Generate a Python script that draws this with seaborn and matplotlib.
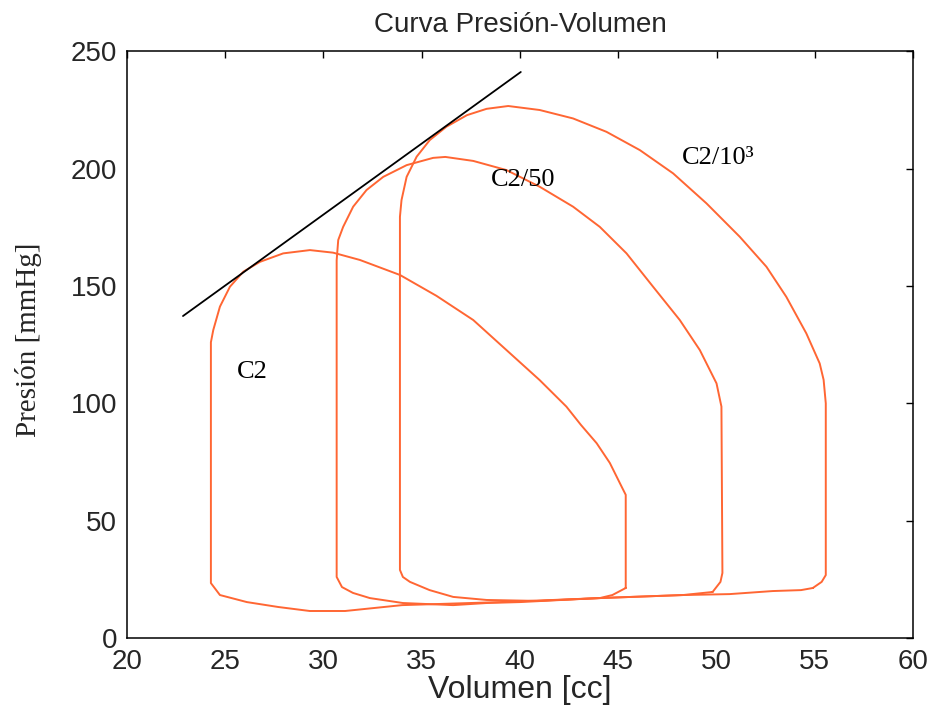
import matplotlib
matplotlib.use("Agg")
import matplotlib.pyplot as plt
import seaborn as sns
import pandas as pd

# ---- data ----
c2_vol = [45.38, 45.38, 45.2, 44.57, 43.9, 43.1, 42.36, 41.0, 39.31, 37.62, 35.75, 33.89,
          31.85, 30.49, 29.31, 27.95, 26.77, 25.92, 25.24, 24.73, 24.39, 24.27, 24.27,
          24.73, 26.1, 27.7, 29.3, 31.1, 34.0, 39.0, 44.06, 44.7, 45.38]
c2_pres = [21.3, 61.0, 64.0, 74.6, 83.0, 90.8, 98.6, 109.9, 122.7, 135.5, 145.8, 154.7,
           161.1, 164.2, 165.3, 163.9, 160.3, 156.1, 149.7, 141.2, 131.2, 126.0, 23.4,
           18.3, 15.3, 13.2, 11.5, 11.5, 14.0, 15.3, 17.0, 18.3, 21.3]

c250_vol = [49.8, 50.2, 50.3, 50.25, 50.0, 49.15, 48.13, 46.77, 45.42, 44.06, 42.7, 41.0,
            39.31, 37.62, 36.2, 35.58, 34.23, 33.04, 32.19, 31.51, 31.0, 30.75, 30.67,
            30.67, 30.94, 31.5, 32.36, 34.04, 36.6, 38.3, 40.0, 44.0, 48.3, 49.8]
c250_pres = [19.6, 23.9, 27.7, 98.6, 108.5, 122.7, 135.5, 149.7, 163.9, 175.2, 183.8, 192.3,
             199.4, 203.3, 205.0, 204.6, 201.5, 196.5, 190.9, 183.8, 175.2, 169.6, 161.0,
             26.0, 21.7, 19.2, 17.0, 14.9, 14.0, 14.9, 15.3, 17.0, 18.3, 19.6]

c21e3_vol = [54.9, 55.35, 55.56, 55.56, 55.45, 55.25, 54.57, 53.55, 52.54, 51.18, 49.49,
             47.79, 46.1, 44.4, 42.7, 41.0, 39.4, 38.3, 37.3, 36.26, 35.41, 34.74, 34.23,
             33.97, 33.89, 33.89, 34.04, 34.4, 35.4, 36.6, 38.3, 40.85, 44.06, 48.3, 50.67,
             52.86, 54.3, 54.9]
c21e3_pres = [21.3, 23.9, 26.8, 100.0, 110.0, 117.0, 129.8, 145.4, 158.2, 171.0, 185.2,
              198.0, 207.9, 215.7, 221.4, 225.0, 226.7, 225.5, 222.8, 217.9, 212.2, 205.1,
              196.5, 186.6, 179.5, 29.0, 26.0, 23.9, 20.4, 17.5, 16.2, 15.8, 17.0, 18.3,
              18.7, 20.0, 20.4, 21.3]

tangent_vol = [22.85, 40.04]
tangent_pres = [137.2, 241.2]

labels = ["C2", "C2/50", "C2/10\u00b3"]
label_vol = [26.38, 40.14, 48.23]
label_pres = [113.3, 195.1, 204.5]

x_ticks = [20, 25, 30, 35, 40, 45, 50, 55, 60]
y_ticks = [0, 50, 100, 150, 200, 250]

# ---- plot ----
sns.set_style("white")
plt.rcParams["font.family"] = ["Liberation Sans", "DejaVu Sans"]

fig = plt.figure(figsize=(9.33, 7.11), dpi=100)
ax = fig.add_axes([0.1361, 0.1027, 0.8425, 0.8251])

curve_color = "#ff6633"
for v, p in [(c2_vol, c2_pres), (c250_vol, c250_pres), (c21e3_vol, c21e3_pres)]:
    df = pd.DataFrame({"vol": v, "pres": p})
    sns.lineplot(data=df, x="vol", y="pres", sort=False, estimator=None,
                 color=curve_color, linewidth=1.4, ax=ax)

df_t = pd.DataFrame({"vol": tangent_vol, "pres": tangent_pres})
sns.lineplot(data=df_t, x="vol", y="pres", sort=False, estimator=None,
             color="black", linewidth=1.3, ax=ax)

for i, (t, xv, yv) in enumerate(zip(labels, label_vol, label_pres)):
    ax.text(xv, yv, t, family=["Liberation Serif", "DejaVu Serif"], fontsize=19,
            ha="left" if i == 2 else "center", va="center", color="black")

ax.set_xlim(20, 60)
ax.set_ylim(0, 250)
ax.set_xticks(x_ticks)
ax.set_yticks(y_ticks)
ax.tick_params(direction="in", length=5, width=1.0, top=True, right=True,
               labelsize=20, colors="black", labelcolor="#262626")
ax.tick_params(axis="x", pad=8)
ax.tick_params(axis="y", pad=7)
for s in ax.spines.values():
    s.set_visible(True)
    s.set_color("black")
    s.set_linewidth(1.1)

ax.set_title("Curva Presi\u00f3n-Volumen", fontsize=20, pad=14, color="#262626")
ax.set_xlabel("Volumen [cc]", fontsize=23, labelpad=0, color="#262626")
ax.set_ylabel("Presi\u00f3n [mmHg]", fontsize=21, family=["Liberation Serif", "DejaVu Serif"])
ax.yaxis.set_label_coords(-0.108, 0.508)

fig.savefig("out.png", dpi=100)
